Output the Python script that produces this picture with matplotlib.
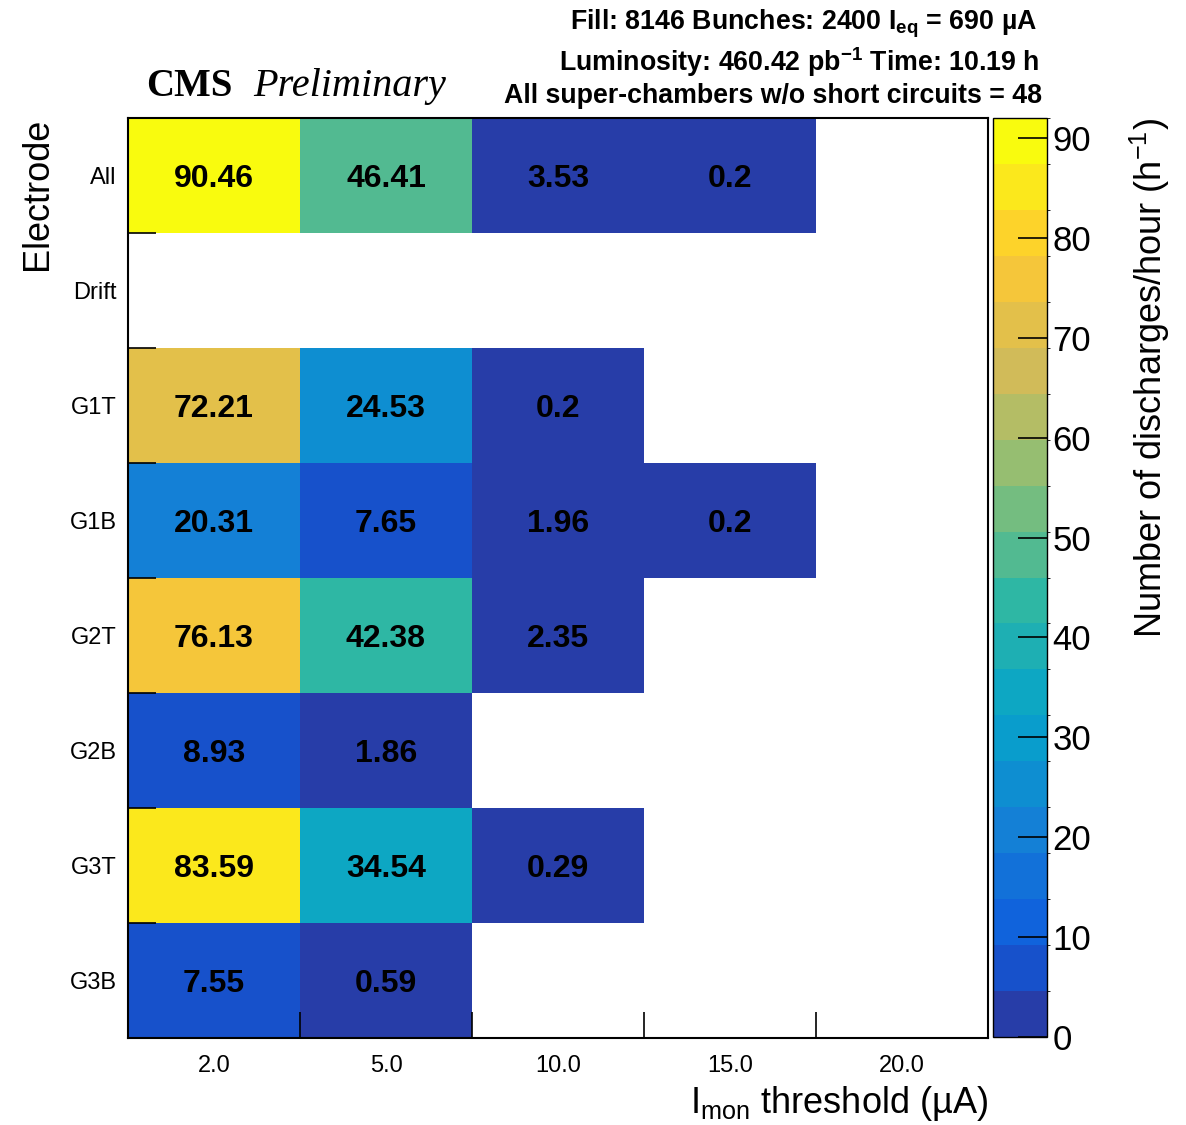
import numpy as np
import matplotlib
matplotlib.use("Agg")
import matplotlib.pyplot as plt
from matplotlib.colors import ListedColormap, BoundaryNorm

plt.rcParams['font.family'] = ['Liberation Sans', 'DejaVu Sans']
plt.rcParams['mathtext.fontset'] = 'custom'
plt.rcParams['mathtext.rm'] = 'Liberation Sans'
plt.rcParams['mathtext.it'] = 'Liberation Sans:italic'
plt.rcParams['mathtext.bf'] = 'Liberation Sans:bold'

# data
thresholds = ["2.0", "5.0", "10.0", "15.0", "20.0"]
electrodes = ["All", "Drift", "G1T", "G1B", "G2T", "G2B", "G3T", "G3B"]
nan = np.nan
rate_all = [90.46, 46.41, 3.53, 0.2, nan]
rate_drift = [nan, nan, nan, nan, nan]
rate_g1t = [72.21, 24.53, 0.2, nan, nan]
rate_g1b = [20.31, 7.65, 1.96, 0.2, nan]
rate_g2t = [76.13, 42.38, 2.35, nan, nan]
rate_g2b = [8.93, 1.86, nan, nan, nan]
rate_g3t = [83.59, 34.54, 0.29, nan, nan]
rate_g3b = [7.55, 0.59, nan, nan, nan]
z_max = 92.0
n_levels = 20

rates = np.array([rate_all, rate_drift, rate_g1t, rate_g1b,
                  rate_g2t, rate_g2b, rate_g3t, rate_g3b])

# ROOT kBird palette, 20 contour colours
stops = np.linspace(0, 1, 9)
red = [0.2082, 0.0592, 0.0780, 0.0232, 0.1802, 0.5301, 0.8186, 0.9956, 0.9764]
green = [0.1664, 0.3599, 0.5041, 0.6419, 0.7178, 0.7492, 0.7328, 0.7862, 0.9832]
blue = [0.5293, 0.8684, 0.8385, 0.7914, 0.6425, 0.4662, 0.3499, 0.1968, 0.0539]
pos = np.array([int((i + 0.99) * 255 / n_levels) for i in range(n_levels)]) / 254.0
colors = np.column_stack([np.interp(pos, stops, red),
                          np.interp(pos, stops, green),
                          np.interp(pos, stops, blue)])
cmap = ListedColormap(colors)
bounds = np.linspace(0, z_max, n_levels + 1)
norm = BoundaryNorm(bounds, cmap.N)

W, H = 1186, 1125
fig = plt.figure(figsize=(W / 100, H / 100), dpi=100)
ax = fig.add_axes([128 / W, 1 - 1038 / H, (988 - 128) / W, (1038 - 118) / H])

masked = np.ma.masked_invalid(rates)
mesh = ax.pcolormesh(np.arange(len(thresholds) + 1), np.arange(len(electrodes) + 1),
                     masked, cmap=cmap, norm=norm, edgecolors='none')
ax.set_xlim(0, len(thresholds))
ax.set_ylim(len(electrodes), 0)

for r in range(len(electrodes)):
    for c in range(len(thresholds)):
        v = rates[r, c]
        if not np.isnan(v):
            ax.text(c + 0.5, r + 0.5, f"{v:g}", ha='center', va='center_baseline',
                    fontsize=23, fontweight='bold', color='black')

# ticks: marks at bin edges, labels at bin centres
ax.set_xticks(np.arange(1, len(thresholds)))
ax.set_xticklabels([])
ax.set_xticks(np.arange(len(thresholds)) + 0.5, minor=True)
ax.set_xticklabels(thresholds, minor=True, fontsize=17)
ax.set_yticks(np.arange(0, len(electrodes) + 1))
ax.set_yticklabels([])
ax.set_yticks(np.arange(len(electrodes)) + 0.5, minor=True)
ax.set_yticklabels(electrodes, minor=True, fontsize=17)
ax.tick_params(axis='x', which='major', direction='in', length=19, width=1.2)
ax.tick_params(axis='y', which='major', direction='in', length=20, width=1.2)
ax.tick_params(axis='x', which='minor', length=0, pad=12)
ax.tick_params(axis='y', which='minor', length=0, pad=8)
for s in ax.spines.values():
    s.set_linewidth(1.5)

# colour bar
cax = fig.add_axes([993 / W, 1 - 1037 / H, (1047 - 993) / W, (1037 - 118) / H])
cb = fig.colorbar(mesh, cax=cax, ticks=np.arange(0, 91, 10))
cb.outline.set_linewidth(1.0)
cax.tick_params(direction='in', length=21, width=1.2, labelsize=25, pad=4)
cax.yaxis.set_ticks_position('right')

# axis titles
fig.text(37 / W, 1 - 118 / H, "Electrode", rotation=90, ha='center', va='top', fontsize=26)
fig.text(988 / W, 1 - 1113 / H, "I$_{\\rm mon}$ threshold (\u00b5A)",
         ha='right', va='baseline', fontsize=26)
fig.text(1150 / W, 1 - 118 / H, r"Number of discharges/hour (h$^{-1}$)",
         rotation=90, ha='center', va='top', fontsize=26)

# labels on top
fig.text(146 / W, 1 - 96 / H, "CMS", fontsize=28, fontweight='bold',
         family='Liberation Serif', ha='left', va='baseline')
fig.text(253 / W, 1 - 96 / H, "Preliminary", fontsize=29, style='italic',
         family='Liberation Serif', ha='left', va='baseline')
fig.text(1037 / W, 1 - 29 / H, "Fill: 8146 Bunches: 2400 I$_{\\mathbf{eq}}$ = 690 \u00b5A",
         ha='right', va='baseline', fontsize=19.3, fontweight='bold')
fig.text(1040 / W, 1 - 71 / H, r"Luminosity: 460.42 pb$^{\mathbf{-1}}$ Time: 10.19 h",
         ha='right', va='baseline', fontsize=19.3, fontweight='bold')
fig.text(1042 / W, 1 - 103 / H, "All super-chambers w/o short circuits = 48",
         ha='right', va='baseline', fontsize=19.3, fontweight='bold')

fig.savefig("out.png", dpi=100)
